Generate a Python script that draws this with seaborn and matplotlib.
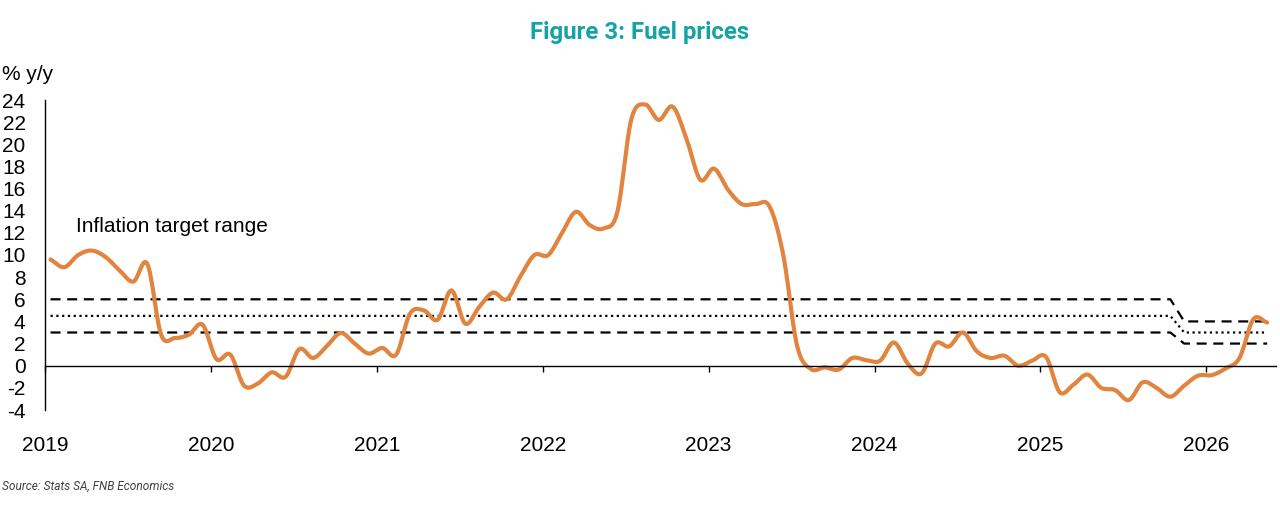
import numpy as np
import pandas as pd
import matplotlib
matplotlib.use("Agg")
import matplotlib.pyplot as plt
import seaborn as sns

# ---- data (monthly, Jan 2019 .. May 2026) ----
start_year = 2019
fuel_yy = [
    9.6, 8.9, 10.0, 10.4, 9.8, 8.6, 7.6, 9.2, 2.8, 2.5, 2.8, 3.7,      # 2019
    0.6, 1.0, -1.8, -1.6, -0.6, -1.0, 1.5, 0.7, 1.8, 2.95, 2.0, 1.1,   # 2020
    1.6, 1.0, 4.7, 5.0, 4.15, 6.8, 3.8, 5.3, 6.6, 6.0, 8.1, 10.0,      # 2021
    10.0, 12.0, 13.9, 12.7, 12.4, 13.9, 22.2, 23.6, 22.2, 23.4, 20.5, 16.8,  # 2022
    17.8, 15.9, 14.6, 14.6, 14.4, 10.0, 1.8, -0.3, -0.15, -0.35, 0.7, 0.5,   # 2023
    0.45, 2.1, 0.2, -0.7, 2.0, 1.75, 3.0, 1.3, 0.7, 0.9, 0.0, 0.45,    # 2024
    0.8, -2.4, -1.7, -0.8, -2.0, -2.2, -3.1, -1.5, -2.0, -2.8, -1.8, -0.9,  # 2025
    -0.85, -0.25, 0.7, 4.2, 3.9,                                       # 2026
]
# inflation target range: 3-6% (midpoint 4.5) until Oct 2025, then 2-4% (midpoint 3)
old_target = [3.0, 4.5, 6.0]
new_target = [2.0, 3.0, 4.0]
n_old_months = 82
year_ticks = [2019, 2020, 2021, 2022, 2023, 2024, 2025, 2026]
y_ticks = [-4, -2, 0, 2, 4, 6, 8, 10, 12, 14, 16, 18, 20, 22, 24]

n = len(fuel_yy)
x = start_year + (np.arange(n) + 0.4) / 12.0
target_low = [old_target[0]] * n_old_months + [new_target[0]] * (n - n_old_months)
target_mid = [old_target[1]] * n_old_months + [new_target[1]] * (n - n_old_months)
target_high = [old_target[2]] * n_old_months + [new_target[2]] * (n - n_old_months)


def smooth(xs, ys, k=16):
    """Catmull-Rom rendering of a smoothed line through the data points."""
    xs = np.asarray(xs, float)
    ys = np.asarray(ys, float)
    P = np.column_stack([xs, ys])
    P = np.vstack([2 * P[0] - P[1], P, 2 * P[-1] - P[-2]])
    out = []
    t = np.linspace(0, 1, k, endpoint=False)[:, None]
    for i in range(1, len(P) - 2):
        p0, p1, p2, p3 = P[i - 1], P[i], P[i + 1], P[i + 2]
        seg = 0.5 * ((2 * p1) + (-p0 + p2) * t + (2 * p0 - 5 * p1 + 4 * p2 - p3) * t ** 2
                     + (-p0 + 3 * p1 - 3 * p2 + p3) * t ** 3)
        out.append(seg)
    out.append(P[-2][None, :])
    out = np.vstack(out)
    return out[:, 0], out[:, 1]


sx, sy = smooth(x, fuel_yy)
df_line = pd.DataFrame({"x": sx, "y": sy})
df_t = pd.DataFrame({"x": x, "low": target_low, "mid": target_mid, "high": target_high})

sns.set_theme(style="white")
plt.rcParams["font.family"] = ["Liberation Sans", "DejaVu Sans"]

fig = plt.figure(figsize=(12.8, 5.2), dpi=100)
ax = fig.add_axes([45 / 1280, 1 - 410 / 520, (1276 - 45) / 1280, 310 / 520])

dash = (0, (4.5, 3))
dot = (0, (1.0, 1.6))
sns.lineplot(data=df_t, x="x", y="high", ax=ax, color="black", lw=1.6, linestyle=dash)
sns.lineplot(data=df_t, x="x", y="low", ax=ax, color="black", lw=1.6, linestyle=dash)
sns.lineplot(data=df_t, x="x", y="mid", ax=ax, color="black", lw=1.6, linestyle=dot)
sns.lineplot(data=df_line, x="x", y="y", ax=ax, color="#E0843F", lw=3.0,
             sort=False, estimator=None)

ax.set_xlim(start_year, 2026.42)
ax.set_ylim(-4, 24)
ax.set_yticks(y_ticks)
ax.set_yticklabels([str(v) for v in y_ticks])
ax.set_xticks(year_ticks)
ax.set_xticklabels([str(v) for v in year_ticks])
ax.set_xlabel("")
ax.set_ylabel("")

for s in ["top", "right"]:
    ax.spines[s].set_visible(False)
ax.spines["bottom"].set_position(("data", 0))
ax.spines["bottom"].set_color("black")
ax.spines["bottom"].set_linewidth(1.0)
ax.spines["left"].set_color("black")
ax.spines["left"].set_linewidth(1.0)
ax.tick_params(axis="x", direction="out", length=4.5, width=1.0, color="black",
               pad=46, labelsize=15, labelcolor="black", bottom=True)
ax.tick_params(axis="y", length=0, pad=14, labelsize=15, labelcolor="black")
ax.grid(False)
ax.set_facecolor("white")

fig.text(2 / 1280, 1 - 75 / 520, "% y/y", fontsize=15, ha="left", va="center", color="black")
fig.text(76 / 1280, 1 - 226 / 520, "Inflation target range", fontsize=15,
         ha="left", va="center", color="black")
fig.text(640 / 1280, 1 - 33 / 520, "Figure 3: Fuel prices", fontsize=17.3,
         fontweight="bold", family=["Roboto", "DejaVu Sans"], color="#15A3A6",
         ha="center", va="center")
fig.text(2 / 1280, 1 - 486 / 520, "Source: Stats SA, FNB Economics", fontsize=8.6,
         style="italic", family=["Roboto", "DejaVu Sans"], color="#404040",
         ha="left", va="center")

fig.savefig("out.png", dpi=100, facecolor="white")
